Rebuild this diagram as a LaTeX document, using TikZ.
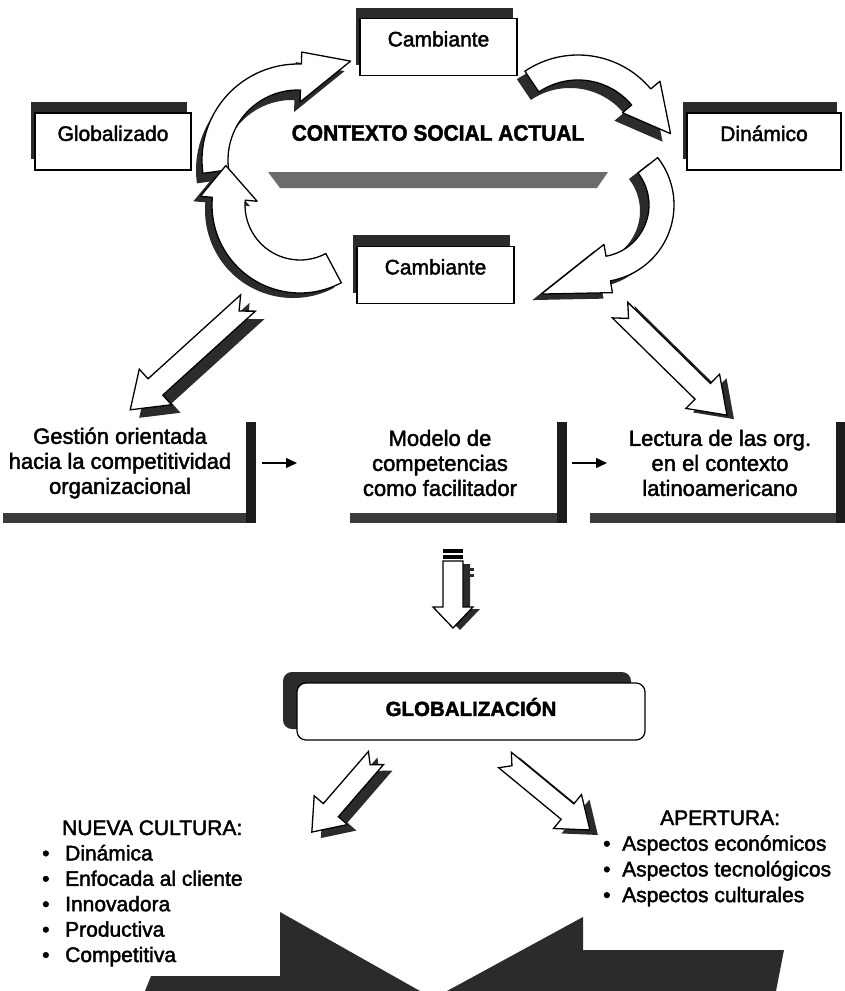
\documentclass[tikz,border=0pt]{standalone}
\usepackage{fontspec}
\setmainfont[FakeBold=2]{Liberation Sans}
\newfontfamily\heavyfont[BoldFeatures={FakeBold=2}]{Liberation Sans}
\newfontfamily\heavycondfont[FakeStretch=0.93, BoldFeatures={FakeBold=2}]{Liberation Sans}
\usetikzlibrary{arrows.meta,shadows}

\definecolor{inkgray}{HTML}{2B2B2B}
\definecolor{bargray}{HTML}{6C6C6C}
\definecolor{bandgray}{HTML}{3A3A3A}
\definecolor{postgray}{HTML}{1C1C1C}

% curved ribbon arrow around the current origin:
% #1 inner radius, #2 outer radius, #3 start angle, #4 end angle,
% #5 tip angle, #6 tip radius, #7 barb overhang
\newcommand{\ribbonpath}[7]{%
  (#3:#2) arc[start angle=#3, end angle=#4, radius=#2]
  -- ({#4}:{#2+#7}) -- ({#5}:{#6}) -- ({#4}:{#1-#7}) -- ({#4}:{#1})
  arc[start angle=#4, end angle=#3, radius=#1] -- cycle}

% straight notched block arrow along +x:
% #1 length, #2 shaft half width, #3 head half width, #4 head length, #5 notch depth
\newcommand{\blockpath}[5]{%
  (0,#2) -- ({#1-#4},#2) -- ({#1-#4},#3) -- (#1,0) -- ({#1-#4},-#3)
  -- ({#1-#4},-#2) -- (0,-#2) -- (#5,0) -- cycle}

\tikzset{
  ribbon/.style={fill=white, draw=black, line width=1.3pt, line join=round},
  ribbonback/.style={fill=inkgray},
  block/.style={fill=white, draw=black, line width=1.3pt, line join=miter},
  blockback/.style={fill=inkgray},
  labelbox/.style={draw=black, line width=1.2pt, fill=white, minimum height=57pt,
    inner sep=0pt, drop shadow={shadow xshift=-4pt, shadow yshift=11pt, fill=inkgray, opacity=1}},
  boxtext/.style={font=\fontsize{21}{21}\selectfont, inner sep=0pt},
  titletext/.style={font=\heavycondfont\bfseries\fontsize{22.5}{22.5}\selectfont, inner sep=0pt},
  rowtext/.style={font=\fontsize{22}{25}\selectfont, align=center, inner sep=0pt},
  listtext/.style={font=\fontsize{21}{21}\selectfont, anchor=base west, inner sep=0pt},
  flowarrow/.style={-{Triangle[length=11pt,width=10pt]}, line width=1.3pt},
}

\begin{document}
\begin{tikzpicture}[x=1pt,y=-1pt]
\useasboundingbox (0,0) rectangle (845,991);

% ---------- curved arrows around the central title ----------
% upper left
\fill[ribbonback, shift={(292,170)}] \ribbonpath{70}{96}{172}{272}{298}{112}{12};
\draw[ribbon, shift={(298,160)}] \ribbonpath{70}{96}{172}{272}{298}{112}{12};
% upper right
\fill[ribbonback, shift={(570,158)}] \ribbonpath{70}{95}{236}{320}{350}{94}{12};
\draw[ribbon, shift={(578,150)}] \ribbonpath{70}{95}{236}{320}{350}{94}{12};
% lower right
\fill[ribbonback, shift={(588,211)}] \ribbonpath{52}{77}{-38}{80}{122}{105}{12};
\draw[ribbon, shift={(597,205)}] \ribbonpath{52}{77}{-38}{80}{122}{105}{12};
% lower left
\fill[ribbonback, shift={(293,210)}] \ribbonpath{55}{88}{62}{185}{208}{84}{12};
\draw[ribbon, shift={(300,205)}] \ribbonpath{55}{88}{62}{185}{208}{84}{12};

% ---------- boxes around the title ----------
\node[labelbox, minimum width=157pt] (topbox) at (438.5,47) {};
\node[boxtext] (toplbl) at ([yshift=-21pt]topbox.north) {Cambiante};
\node[labelbox, minimum width=156pt] (leftbox) at (113,141.5) {};
\node[boxtext] (leftlbl) at ([yshift=-21pt]leftbox.north) {Globalizado};
\node[labelbox, minimum width=154pt] (rightbox) at (764,141.5) {};
\node[boxtext] (rightlbl) at ([yshift=-21pt]rightbox.north) {Dinámico};
\node[labelbox, minimum width=157pt, drop shadow={shadow xshift=-4pt, shadow yshift=12pt, fill=inkgray, opacity=1}] (lowbox) at (435.5,275) {};
\node[boxtext] (lowlbl) at ([yshift=-21pt]lowbox.north) {Cambiante};

\node[titletext] (ctx) at (438,133) {CONTEXTO SOCIAL ACTUAL};
\fill[bargray] (268,172) -- (608,172) -- (597,188) -- (280,188) -- cycle;

% ---------- diagonal block arrows towards the row ----------
\fill[blockback, shift={(257,311)}, rotate=222.2] \blockpath{159}{11}{24}{34}{12};
\draw[block, shift={(248,303)}, rotate=222.2] \blockpath{159}{11}{24}{34}{12};
\fill[blockback, shift={(627,314)}, rotate=315.5] \blockpath{150}{11}{24}{34}{12};
\draw[block, shift={(620,310)}, rotate=315.5] \blockpath{150}{11}{24}{34}{12};

% ---------- row of three statements ----------
\node[rowtext] (gest) at (120,463) {Gestión orientada\\hacia la competitividad\\organizacional};
\node[rowtext] (model) at (440,463) {Modelo de\\competencias\\como facilitador};
\node[rowtext] (lect) at (720,463) {Lectura de las org.\\en el contexto\\latinoamericano};

\fill[bandgray] (3,513) rectangle (256,523);
\fill[bandgray] (350,513) rectangle (567,523);
\fill[bandgray] (590,513) rectangle (845,523);
\fill[postgray] (246,422) rectangle (256,523);
\fill[postgray] (557,422) rectangle (567,523);
\fill[postgray] (836,422) rectangle (845,523);

\coordinate (f1s) at (262,463);
\coordinate (f1e) at (297,463);
\coordinate (f2s) at (572,463);
\coordinate (f2e) at (607,463);
\draw[flowarrow] (f1s) -- (f1e);
\draw[flowarrow] (f2s) -- (f2e);

% ---------- small striped arrow down ----------
\fill[blockback, shift={(460,564)}, rotate=270] \blockpath{66}{10}{20}{21}{0};
\fill[inkgray] (464,568) rectangle (474,570.5);
\fill[inkgray] (464,574) rectangle (474,576.5);
\draw[block, shift={(453,561)}, rotate=270] \blockpath{67}{10}{20}{21}{0};
\fill[black] (443,548.5) rectangle (463,552.5);
\fill[black] (443,555) rectangle (463,558.5);

% ---------- GLOBALIZACION ----------
\node[draw, line width=1.2pt, fill=white, rounded corners=9pt, minimum width=348pt,
  minimum height=57pt, inner sep=0pt,
  drop shadow={shadow xshift=-14pt, shadow yshift=11pt, fill=inkgray, opacity=1}] (glob) at (471,711.5) {};
\node[inner sep=0pt, font=\heavyfont\bfseries\fontsize{20.5}{20.5}\selectfont] (globlbl) at (471,707) {GLOBALIZACIÓN};

\fill[blockback, shift={(385,764)}, rotate=229.1] \blockpath{98}{10}{22}{29}{9};
\draw[block, shift={(376,758)}, rotate=229.1] \blockpath{98}{10}{22}{29}{9};
\fill[blockback, shift={(513,765)}, rotate=320.5] \blockpath{110}{10}{22}{29}{9};
\draw[block, shift={(505,760)}, rotate=320.5] \blockpath{110}{10}{22}{29}{9};

% ---------- lists ----------
\node[listtext] (nchead) at (62,835) {NUEVA CULTURA:};
\foreach \txt [count=\i] in {Dinámica, Enfocada al cliente, Innovadora, Productiva, Competitiva}
  \node[listtext] (nc\i) at (42,{835+25.4*\i}) {\makebox[23pt][l]{•}\txt};

\node[listtext] (aphead) at (660,825) {APERTURA:};
\foreach \txt [count=\i] in {Aspectos económicos, Aspectos tecnológicos, Aspectos culturales}
  \node[listtext] (ap\i) at (603,{825+25.7*\i}) {\makebox[19pt][l]{•}\txt};

% ---------- converging chevron at the foot ----------
\fill[inkgray] (151,976) -- (280,976) -- (280,912) -- (420,991) -- (145,991) -- cycle;
\fill[inkgray] (583,917) -- (583,950) -- (784,950) -- (776,991) -- (447,991) -- cycle;
\end{tikzpicture}
\end{document}
